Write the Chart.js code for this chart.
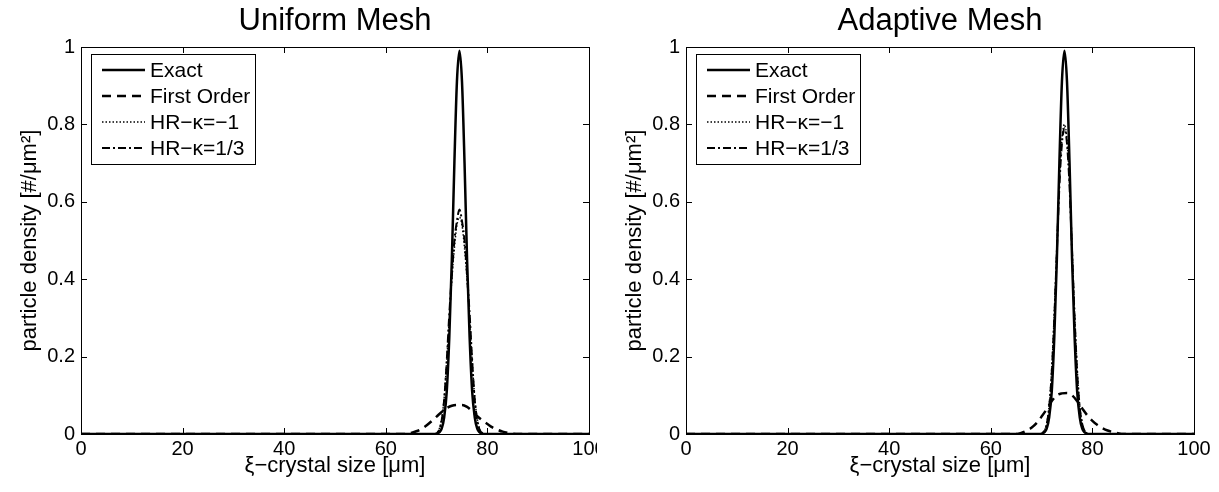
<!DOCTYPE html>
<html>
<head>
<meta charset="utf-8">
<script src="https://cdn.jsdelivr.net/npm/chart.js@4.4.1/dist/chart.umd.min.js"></script>
<style>
    html, body { margin: 0; padding: 0; background: #fff; }
    #wrap { position: relative; width: 1219px; height: 492px; overflow: hidden; }
    #c1 { position: absolute; left: 0; top: 0; }
    #c2 { position: absolute; left: 597px; top: 0; }
</style>
</head>
<body>
<div id="wrap">
    <canvas id="c1" width="597" height="492"></canvas>
    <canvas id="c2" width="622" height="492"></canvas>
</div>
<script>
// 图例文字
const seriesLabels = ['Exact', 'First Order', 'HR\u2212\u03ba=\u22121', 'HR\u2212\u03ba=1/3'];
const chartTitles = ['Uniform Mesh', 'Adaptive Mesh'];
const xTicks = [0, 20, 40, 60, 80, 100];
const yTicks = [0, 0.2, 0.4, 0.6, 0.8, 1];

// 精确解（两张图相同）
const xExact = [0, 70, 70.5, 71, 71.5, 72, 72.5, 73, 73.5, 74, 74.5, 75, 75.5, 76, 76.5, 77, 77.5, 78, 78.5, 79, 100];
const yExact = [0, 0, 0.004, 0.014, 0.044, 0.11, 0.25, 0.45, 0.70, 0.91, 0.99, 0.91, 0.70, 0.45, 0.25, 0.11, 0.044, 0.014, 0.004, 0, 0];

// 一阶格式
const xFirst = [0, 64, 65, 66, 67, 68, 69, 70, 71, 72, 73, 74, 75, 76, 77, 78, 79, 80, 81, 82, 83, 84, 85, 86, 100];
const yFirstUniform = [0, 0, 0.003, 0.007, 0.013, 0.022, 0.033, 0.045, 0.057, 0.067, 0.073, 0.075, 0.075, 0.070, 0.059, 0.046, 0.035, 0.026, 0.017, 0.011, 0.006, 0.003, 0.001, 0, 0];
const yFirstAdaptive = [0, 0, 0, 0.003, 0.008, 0.016, 0.028, 0.045, 0.064, 0.085, 0.100, 0.105, 0.106, 0.100, 0.085, 0.066, 0.048, 0.034, 0.023, 0.015, 0.009, 0.005, 0.002, 0, 0];

// 高分辨率格式
const xHR = [0, 69.5, 70, 70.5, 71, 71.5, 72, 72.5, 73, 73.5, 74, 74.5, 75, 75.5, 76, 76.5, 77, 77.5, 78, 78.5, 79, 79.5, 100];
const yHRm1Uniform = [0, 0, 0.003, 0.012, 0.04, 0.095, 0.19, 0.30, 0.40, 0.48, 0.54, 0.56, 0.54, 0.48, 0.40, 0.30, 0.19, 0.095, 0.04, 0.012, 0.003, 0, 0];
const yHR13Uniform = [0, 0, 0.002, 0.01, 0.035, 0.09, 0.19, 0.31, 0.41, 0.50, 0.55, 0.58, 0.55, 0.50, 0.41, 0.31, 0.19, 0.09, 0.035, 0.01, 0.002, 0, 0];
const yHRm1Adaptive = [0, 0, 0.002, 0.008, 0.028, 0.075, 0.17, 0.31, 0.48, 0.65, 0.76, 0.80, 0.76, 0.65, 0.48, 0.31, 0.17, 0.075, 0.028, 0.008, 0.002, 0, 0];
const yHR13Adaptive = [0, 0, 0.001, 0.007, 0.025, 0.07, 0.16, 0.30, 0.47, 0.64, 0.75, 0.79, 0.75, 0.64, 0.47, 0.30, 0.16, 0.07, 0.025, 0.007, 0.001, 0, 0];

const FONT = "'Liberation Sans', Arial, Helvetica, sans-serif";
Chart.defaults.font.family = FONT;
Chart.defaults.color = '#000';

// 线型
const lineStyles = [
    { borderWidth: 2.5, borderDash: [] },
    { borderWidth: 2.5, borderDash: [9, 6] },
    { borderWidth: 1.5, borderDash: [1.5, 2] },
    { borderWidth: 2, borderDash: [8, 3, 2, 3] }
];

function pts(xs, ys) {
    return xs.map((x, i) => ({ x: x, y: ys[i] }));
}

// MATLAB 风格的外框、向内刻度、标题和图例
const matlabAxes = {
    id: 'matlabAxes',
    afterDraw(chart, args, opts) {
        const { ctx, chartArea: a, scales } = chart;
        ctx.save();
        ctx.strokeStyle = '#000';
        ctx.lineWidth = 1;
        ctx.setLineDash([]);
        ctx.strokeRect(a.left + 0.5, a.top + 0.5, a.right - a.left, a.bottom - a.top);

        const tl = 6;
        ctx.beginPath();
        scales.x.ticks.forEach(t => {
            const px = Math.round(scales.x.getPixelForValue(t.value)) + 0.5;
            ctx.moveTo(px, a.bottom); ctx.lineTo(px, a.bottom - tl);
            ctx.moveTo(px, a.top); ctx.lineTo(px, a.top + tl);
        });
        scales.y.ticks.forEach(t => {
            const py = Math.round(scales.y.getPixelForValue(t.value)) + 0.5;
            ctx.moveTo(a.left, py); ctx.lineTo(a.left + tl, py);
            ctx.moveTo(a.right, py); ctx.lineTo(a.right - tl, py);
        });
        ctx.stroke();

        // 标题
        ctx.fillStyle = '#000';
        ctx.font = '31px ' + FONT;
        ctx.textAlign = 'center';
        ctx.textBaseline = 'middle';
        ctx.fillText(opts.title, (a.left + a.right) / 2, 21);

        // 图例
        const bx = a.left + 10, by = a.top + 7, bw = 164, bh = 110;
        ctx.fillStyle = '#fff';
        ctx.fillRect(bx, by, bw, bh);
        ctx.strokeRect(bx + 0.5, by + 0.5, bw, bh);
        ctx.font = '21px ' + FONT;
        ctx.textAlign = 'left';
        chart.data.datasets.forEach((ds, i) => {
            const ry = by + 16 + i * 26;
            ctx.beginPath();
            ctx.lineWidth = ds.borderWidth;
            ctx.setLineDash(ds.borderDash);
            ctx.moveTo(a.left + 21, ry);
            ctx.lineTo(a.left + 64, ry);
            ctx.stroke();
            ctx.setLineDash([]);
            ctx.fillStyle = '#000';
            ctx.fillText(ds.label, a.left + 69, ry + 1);
        });
        ctx.restore();
    }
};

function makeChart(id, title, seriesY, yAxisW, padRight, yTitlePad) {
    const xs = [xExact, xFirst, xHR, xHR];
    const datasets = seriesY.map((ys, i) => ({
        label: seriesLabels[i],
        data: pts(xs[i], ys),
        borderColor: '#000',
        borderWidth: lineStyles[i].borderWidth,
        borderDash: lineStyles[i].borderDash,
        pointRadius: 0,
        fill: false,
        cubicInterpolationMode: 'monotone'
    }));

    return new Chart(document.getElementById(id), {
        type: 'line',
        data: { datasets: datasets },
        plugins: [matlabAxes],
        options: {
            responsive: false,
            animation: false,
            devicePixelRatio: 1,
            layout: { padding: { top: 47, right: padRight, bottom: 0, left: 0 } },
            plugins: {
                legend: { display: false },
                tooltip: { enabled: false },
                matlabAxes: { title: title }
            },
            scales: {
                x: {
                    type: 'linear',
                    min: 0,
                    max: 100,
                    afterBuildTicks: s => { s.ticks = xTicks.map(v => ({ value: v })); },
                    ticks: { font: { size: 20 }, color: '#000', padding: 3, maxRotation: 0 },
                    grid: { display: false, drawTicks: false },
                    border: { display: false },
                    title: {
                        display: true,
                        text: '\u03be\u2212crystal size [\u03bcm]',
                        font: { size: 22 },
                        color: '#000',
                        padding: { top: 0, bottom: 12.8 }
                    },
                    afterFit: s => { s.height = 58; s.paddingLeft = 0; s.paddingRight = 0; }
                },
                y: {
                    type: 'linear',
                    min: 0,
                    max: 1,
                    afterBuildTicks: s => { s.ticks = yTicks.map(v => ({ value: v })); },
                    ticks: {
                        font: { size: 20 },
                        color: '#000',
                        padding: 6,
                        callback: v => String(+v.toFixed(1))
                    },
                    grid: { display: false, drawTicks: false },
                    border: { display: false },
                    title: {
                        display: true,
                        text: 'particle density [#/\u03bcm\u00b2]',
                        font: { size: 22 },
                        color: '#000',
                        padding: { top: yTitlePad, bottom: 0 }
                    },
                    afterFit: s => { s.width = yAxisW; s.paddingTop = 0; s.paddingBottom = 0; }
                }
            }
        }
    });
}

makeChart('c1', chartTitles[0], [yExact, yFirstUniform, yHRm1Uniform, yHR13Uniform], 81, 8, 16.8);
makeChart('c2', chartTitles[1], [yExact, yFirstAdaptive, yHRm1Adaptive, yHR13Adaptive], 89, 25, 24.8);
</script>
</body>
</html>
